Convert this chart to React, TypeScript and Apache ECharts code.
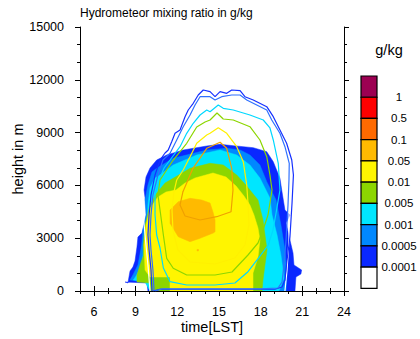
import React, { useEffect, useRef } from 'react';
import * as echarts from 'echarts';

const FONT = '"Liberation Sans", Arial, Helvetica, sans-serif';

// axes
const timeTicks = [6, 9, 12, 15, 18, 21, 24];
const heightTickStep = 3000;

// colour bar (top to bottom)
const levelLabels = ['1', '0.5', '0.1', '0.05', '0.01', '0.005', '0.001', '0.0005', '0.0001'];
const levelColors = ['#9c0052', '#ff0000', '#ff6a00', '#ffba00', '#fff500', '#8cd600', '#00e6ff', '#0088ff', '#0a28ff', '#ffffff'];

// shaded regions of the mixing ratio, [time (h LST), height (m)]
const fill0001 = [
  [8.45, 455], [8.6, 1136], [8.81, 1364], [8.96, 1705], [9.1, 2500], [9.17, 3068], [9.46, 3296],
  [9.82, 4432], [9.61, 5739], [9.75, 6477], [10.04, 6989], [10.52, 7443], [11.24, 7728],
  [12.43, 8011], [14.12, 8239], [15.08, 8335], [16.03, 8256], [17.47, 8142], [18.44, 7915],
  [18.91, 7347], [19.39, 6404], [19.54, 5625], [19.75, 4602], [20.11, 4318], [19.83, 3864],
  [20.11, 2898], [20.33, 2159], [20.4, 1477], [20.95, 1193], [20.9, 966], [20.54, 795],
  [20.47, 0], [9.89, 0], [9.82, 455], [8.24, 511],
];
const fill0005 = [
  [8.6, 625], [8.81, 909], [9.17, 1477], [9.44, 2614], [9.53, 3466], [9.75, 4318], [9.68, 5171],
  [9.89, 6023], [10.18, 6762], [10.52, 6972], [11.71, 7540], [14.12, 8011], [15.56, 8108],
  [16.52, 8011], [17.23, 7728], [17.95, 7159], [18.44, 6210], [19.11, 5171], [19.46, 3750],
  [19.75, 2330], [19.9, 909], [19.83, 0], [10.04, 0], [9.75, 511],
];
const fill001 = [
  [8.84, 625], [9.08, 909], [9.44, 1477], [9.68, 2801], [9.82, 3750], [9.89, 4887], [10.04, 5852],
  [10.4, 6421], [10.76, 6591], [11.71, 7159], [13.4, 7728], [15.08, 8011], [16.28, 7728],
  [17.23, 7159], [17.95, 6421], [18.67, 5284], [18.82, 4318], [19.18, 3182], [19.46, 2045],
  [19.68, 739], [19.32, 0], [10.04, 0], [9.68, 511],
];
const fill005 = [
  [11.71, 6404], [12.92, 6972], [14.36, 7256], [15.31, 7159], [16.28, 6591], [17.0, 5966],
  [17.81, 5171], [18.17, 4034], [18.46, 2330], [18.31, 1477], [18.17, 625], [18.1, 0],
  [10.04, 0], [10.04, 455], [9.1, 511], [9.1, 909], [9.32, 1477], [9.56, 2000], [9.55, 2614],
  [9.69, 3750], [9.98, 4716], [10.45, 5500], [11.12, 6136],
];
const fill01 = [
  [11.91, 5739], [12.56, 6136], [13.28, 6421], [14.57, 6705], [15.51, 6477], [16.23, 5966],
  [16.8, 5398], [17.23, 4887], [17.52, 4318], [17.81, 3580], [17.95, 2898], [17.81, 1932],
  [17.45, 1023], [17.45, 0], [11.48, 0], [11.48, 795], [10.04, 795], [9.68, 1193],
  [9.61, 2614], [9.75, 3750], [10.04, 4716], [10.61, 5341], [11.19, 5625],
];
const fill05 = [
  [11.48, 4602], [12.07, 5074], [12.92, 5267], [13.76, 5171], [14.36, 5000], [14.57, 4489],
  [14.72, 4034], [14.72, 3369], [14.59, 3296], [13.64, 2994], [12.92, 2801], [12.07, 3085],
  [11.48, 3847],
];
const fill05Spot = [[13.42, 2280], [13.53, 2280], [13.53, 2360], [13.42, 2360]];

// contour lines of the second hydrometeor field
const line0001 = [
  [10.18, 0], [10.11, 1193], [9.97, 2330], [9.89, 3182], [9.97, 4318], [10.11, 5455],
  [10.4, 6591], [10.76, 7443], [11.12, 7841], [11.35, 8011], [11.6, 8483], [11.84, 8960],
  [12.2, 9148], [12.56, 9904], [12.79, 10284], [13.15, 10665], [13.51, 11137], [13.87, 11421],
  [14.36, 11324], [14.72, 11040], [15.08, 11324], [15.56, 11233], [15.92, 11421], [16.52, 11381],
  [16.87, 11040], [17.47, 10853], [18.44, 10472], [18.91, 9904], [19.39, 9148], [19.87, 8392],
  [20.24, 7443], [20.36, 6591], [20.26, 5000], [20.11, 3068], [19.9, 1761], [19.75, 625],
  [19.54, 227], [19.03, 100], [10.76, 100], [10.25, 0],
];
const line0005 = [
  [10.33, 0], [10.25, 1193], [10.11, 2330], [10.04, 3182], [10.11, 4318], [10.25, 5455],
  [10.61, 6591], [10.97, 7443], [11.48, 7824], [11.96, 8580], [12.43, 9335], [12.92, 10000],
  [13.28, 10568], [13.64, 11040], [14.36, 11040], [14.72, 10853], [15.2, 11040], [15.92, 11137],
  [16.52, 11137], [17.0, 10853], [18.44, 10284], [18.8, 9716], [19.39, 8960], [19.75, 8199],
  [20.06, 7256], [20.04, 6307], [19.97, 4887], [19.83, 2898], [19.68, 1477], [19.54, 511],
  [19.25, 170], [17.95, 120], [10.9, 120], [10.4, 0],
];
const line001 = [
  [11.48, 7443], [12.2, 8199], [12.68, 8960], [13.15, 9529], [13.64, 10000], [14.12, 10284],
  [14.36, 10188], [14.95, 10568], [15.31, 10381], [16.03, 10284], [17.23, 10000], [18.19, 9716],
  [18.67, 9262], [18.91, 8580], [19.27, 7256], [19.39, 5739], [19.11, 4432], [18.89, 3466],
  [18.55, 2614], [17.83, 1858], [17.09, 1097], [16.15, 455], [14.72, 341], [12.68, 341],
  [11.48, 528], [11.0, 1307], [10.76, 2443], [10.52, 3182], [10.4, 4318], [10.4, 5455],
  [10.76, 6421], [11.05, 6989], [11.48, 7443],
];
const line005 = [
  [10.76, 6307], [11.71, 7443], [12.68, 8392], [13.4, 9319], [14.0, 9603], [14.36, 9716],
  [14.86, 10114], [15.31, 9773], [16.03, 9716], [17.23, 9335], [17.95, 8580], [18.44, 7631],
  [18.67, 6591], [18.82, 5739], [18.53, 4318], [18.17, 3466], [17.81, 2727], [17.09, 2045],
  [15.94, 1080], [14.72, 909], [12.68, 909], [11.71, 1290], [11.24, 1858], [11.0, 3182],
  [10.76, 4602], [10.61, 5455], [10.76, 6307],
];
const line01 = [
  [11.96, 6307], [12.43, 6875], [12.92, 7631], [13.4, 8392], [14.12, 8864], [14.36, 8960],
  [14.95, 9279], [15.56, 8960], [16.28, 8199], [16.75, 7347], [17.0, 6023], [17.09, 5000],
  [17.16, 3750], [16.87, 2614], [16.15, 1875], [14.72, 1534], [12.92, 1648], [12.05, 2330],
  [11.69, 3466], [11.62, 4602], [11.76, 5625], [11.96, 6307],
];
const line05 = [
  [12.41, 5642], [13.13, 6972], [14.12, 8108], [15.08, 8449], [15.56, 8108], [15.92, 6972],
  [16.01, 5739], [15.87, 4506], [14.84, 4222], [13.64, 4034], [12.56, 4261], [12.2, 4887],
  [12.41, 5642],
];
const lineWhiteWest = [[9.32, 6591], [9.46, 5171], [9.68, 3182], [9.89, 1477], [10.04, 0]];
const lineWhiteEast = [[20.04, 5455], [20.04, 2898], [19.9, 1193], [19.75, 0]];

const fills: [number[][], string][] = [
  [fill0001, '#0a28ff'],
  [fill0005, '#0088ff'],
  [fill001, '#00e6ff'],
  [fill005, '#8cd600'],
  [fill01, '#fff500'],
  [fill05, '#ffba00'],
  [fill05Spot, '#ffba00'],
];

const lines: [number[][], string][] = [
  [lineWhiteWest, '#ffffff'],
  [lineWhiteEast, '#ffffff'],
  [line0001, '#1530ff'],
  [line0005, '#2f70ff'],
  [line001, '#00d8ff'],
  [line005, '#8cd600'],
  [line01, '#fff000'],
  [line05, '#f0a000'],
];

function polygonSeries(points: number[][], color: string) {
  return {
    type: 'custom',
    coordinateSystem: 'cartesian2d',
    xAxisIndex: 0,
    yAxisIndex: 0,
    silent: true,
    clip: true,
    data: points,
    encode: { x: 0, y: 1 },
    renderItem: (params: any, api: any) => {
      if (params.dataIndex !== 0) return null;
      return {
        type: 'polygon',
        shape: { points: points.map((p) => api.coord(p)) },
        style: { fill: color, stroke: color, lineWidth: 0.5 },
      };
    },
  };
}

function lineSeries(points: number[][], color: string) {
  return {
    type: 'line',
    xAxisIndex: 0,
    yAxisIndex: 0,
    data: points,
    symbol: 'none',
    showSymbol: false,
    silent: true,
    clip: true,
    z: 5,
    lineStyle: { color, width: 1.2 },
  };
}

const axisBlack = { lineStyle: { color: '#000', width: 1 } };

export default function App() {
  const ref = useRef<HTMLDivElement>(null);

  useEffect(() => {
    if (!ref.current) return;
    const chart = echarts.init(ref.current, undefined, { renderer: 'svg' });

    const grid = { left: 80, right: 76, top: 27, bottom: 48 };
    const barX = 361;
    const barTop = 76;
    const boxH = 21.23;
    const boxW = 16;

    const graphic: any[] = [
      {
        type: 'text',
        x: 80,
        y: 13,
        style: { text: 'Hydrometeor mixing ratio in g/kg', fill: '#000', font: `12px ${FONT}`, align: 'left', verticalAlign: 'middle' },
      },
      {
        type: 'text',
        x: 212,
        y: 327,
        style: { text: 'time[LST]', fill: '#000', font: `14.5px ${FONT}`, align: 'center', verticalAlign: 'middle' },
      },
      {
        type: 'text',
        x: 18,
        y: 159,
        rotation: Math.PI / 2,
        style: { text: 'height in m', fill: '#000', font: `14.5px ${FONT}`, align: 'center', verticalAlign: 'middle' },
      },
      {
        type: 'text',
        x: 389,
        y: 50,
        style: { text: 'g/kg', fill: '#000', font: `14.5px ${FONT}`, align: 'center', verticalAlign: 'middle' },
      },
    ];
    levelColors.forEach((c, i) => {
      graphic.push({
        type: 'rect',
        shape: { x: barX, y: barTop + i * boxH, width: boxW, height: boxH },
        style: { fill: c, stroke: '#000', lineWidth: 1.2 },
      });
    });
    levelLabels.forEach((t, i) => {
      graphic.push({
        type: 'text',
        x: 399,
        y: barTop + (i + 1) * boxH,
        style: { text: t, fill: '#000', font: `11.5px ${FONT}`, align: 'center', verticalAlign: 'middle' },
      });
    });

    const xBase = { type: 'value', min: 5, max: 24, splitLine: { show: false } };
    const yBase = { type: 'value', min: 0, max: 15000, splitLine: { show: false } };

    chart.setOption({
      animation: false,
      backgroundColor: '#fff',
      grid,
      xAxis: [
        {
          ...xBase,
          position: 'bottom',
          axisLine: { show: true, ...axisBlack },
          axisTick: { show: true, inside: false, length: 5, customValues: timeTicks, ...axisBlack },
          axisLabel: { customValues: timeTicks, color: '#000', fontSize: 12.5, fontFamily: FONT, margin: 14 },
        },
        {
          ...xBase,
          position: 'bottom',
          interval: 1,
          axisLine: { show: false },
          axisTick: { show: true, inside: false, length: 3, ...axisBlack },
          axisLabel: { show: false },
        },
        {
          ...xBase,
          position: 'top',
          axisLine: { show: true, ...axisBlack },
          axisTick: { show: true, inside: false, length: 5, customValues: timeTicks, ...axisBlack },
          axisLabel: { show: false },
        },
        {
          ...xBase,
          position: 'top',
          interval: 1,
          axisLine: { show: false },
          axisTick: { show: true, inside: false, length: 3, ...axisBlack },
          axisLabel: { show: false },
        },
      ],
      yAxis: [
        {
          ...yBase,
          position: 'left',
          interval: heightTickStep,
          axisLine: { show: true, ...axisBlack },
          axisTick: { show: true, inside: false, length: 5, ...axisBlack },
          axisLabel: {
            color: '#000',
            fontSize: 12.5,
            fontFamily: FONT,
            margin: 16,
            formatter: (v: number) => String(v),
          },
        },
        {
          ...yBase,
          position: 'left',
          interval: 1000,
          axisLine: { show: false },
          axisTick: { show: true, inside: false, length: 3, ...axisBlack },
          axisLabel: { show: false },
        },
        {
          ...yBase,
          position: 'right',
          interval: heightTickStep,
          axisLine: { show: true, ...axisBlack },
          axisTick: { show: true, inside: false, length: 5, ...axisBlack },
          axisLabel: { show: false },
        },
        {
          ...yBase,
          position: 'right',
          interval: 1000,
          axisLine: { show: false },
          axisTick: { show: true, inside: false, length: 3, ...axisBlack },
          axisLabel: { show: false },
        },
      ],
      series: [
        ...fills.map(([pts, c]) => polygonSeries(pts, c)),
        ...lines.map(([pts, c]) => lineSeries(pts, c)),
      ],
      graphic,
    });

    return () => chart.dispose();
  }, []);

  return <div ref={ref} style={{ position: 'fixed', left: 0, top: 0, width: 420, height: 339 }} />;
}
